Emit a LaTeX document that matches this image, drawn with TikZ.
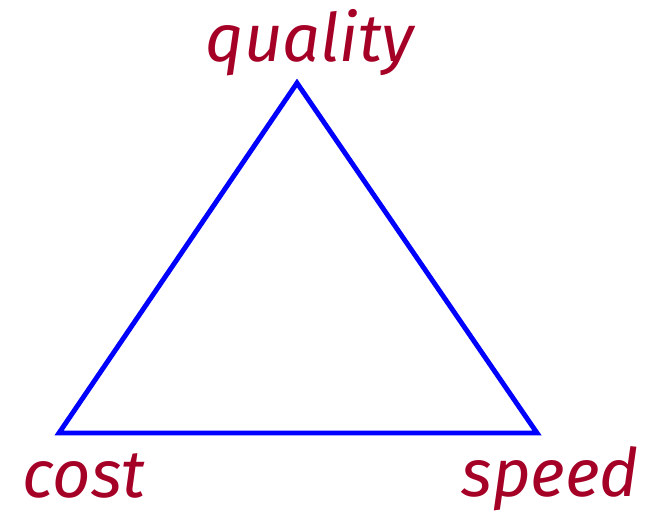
\documentclass[tikz,border=0pt]{standalone}
\usepackage{fontspec}
\setmainfont{Fira Sans}
\usetikzlibrary{positioning}
\definecolor{lblred}{HTML}{A50026}
\tikzset{
edge/.style={draw=blue,line width=2.8pt,line join=miter},
lbl/.style={font=\fontsize{38}{42}\selectfont\itshape,text=lblred,inner sep=0pt}
}

\begin{document}
\begin{tikzpicture}
\useasboundingbox (0,0) rectangle (13,10.3);
\coordinate (q) at (5.94,8.64);
\coordinate (c) at (1.18,1.64);
\coordinate (s) at (10.74,1.64);
\draw[edge] (q) -- (c) -- (s) -- cycle;
\node[lbl] (ql) at (6.2,9.45) {quality};
\node[lbl] (cl) at (1.68,0.78) {cost};
\node[lbl] (sl) at (11.0,0.72) {speed};
\end{tikzpicture}
\end{document}
